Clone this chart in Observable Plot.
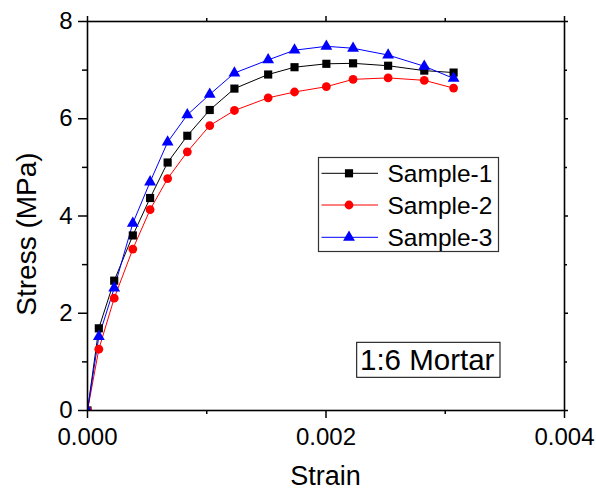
<!DOCTYPE html>
<html>
<head>
<meta charset="utf-8">
<script src="https://cdn.jsdelivr.net/npm/d3@7"></script>
<script src="https://cdn.jsdelivr.net/npm/@observablehq/plot@0.6"></script>
<style>
  html, body { margin: 0; padding: 0; background: #fff; }
  svg { display: block; }
</style>
</head>
<body>
<div id="chart"></div>
<script>
// ---- data ----
const strain = [0, 0.000095, 0.000224, 0.00038, 0.000525, 0.000672, 0.000837, 0.001025, 0.001232, 0.001515, 0.001736, 0.002003, 0.002227, 0.002521, 0.002824, 0.00307];
const sample1 = [0, 1.69, 2.67, 3.60, 4.37, 5.10, 5.65, 6.18, 6.62, 6.91, 7.06, 7.13, 7.14, 7.09, 6.99, 6.95];
const sample2 = [0, 1.26, 2.31, 3.32, 4.13, 4.77, 5.32, 5.86, 6.17, 6.43, 6.55, 6.66, 6.81, 6.84, 6.79, 6.63];
const sample3 = [0, 1.52, 2.52, 3.85, 4.70, 5.52, 6.08, 6.50, 6.94, 7.21, 7.41, 7.49, 7.45, 7.31, 7.08, 6.83];
const seriesNames = ["Sample-1", "Sample-2", "Sample-3"];
const seriesColors = ["#000000", "#ff0000", "#0000ff"];
const seriesSymbols = ["square", "circle", "triangle"];
const xMajor = [0, 0.002, 0.004];
const xMinor = [0.001, 0.003];
const yMajor = [0, 2, 4, 6, 8];
const yMinor = [1, 3, 5, 7];
const annotation = "1:6 Mortar";

const allSeries = [sample1, sample2, sample3];
const data = allSeries.flatMap((vals, i) =>
  vals.map((v, j) => ({ strain: strain[j], stress: v, series: seriesNames[i] })));

const font = "'Liberation Sans', Arial, sans-serif";
const W = 596, H = 492;
const mL = 87, mR = 32, mT = 21, mB = 82;

const symR = { square: 4.6, circle: 4.4, triangle: 4.4 };

const marks = [];
seriesNames.forEach((name, i) => {
  const d = data.filter(r => r.series === name);
  marks.push(Plot.line(d, { x: "strain", y: "stress", stroke: seriesColors[i], strokeWidth: 1, clip: true }));
});
seriesNames.forEach((name, i) => {
  const d = data.filter(r => r.series === name);
  marks.push(Plot.dot(d, { x: "strain", y: "stress", symbol: () => seriesSymbols[i], fill: seriesColors[i], stroke: "none", r: symR[seriesSymbols[i]], clip: true }));
});

const axisStyle = { stroke: "#000", strokeWidth: 1.5 };
marks.push(
  Plot.axisX({ ticks: xMajor, tickSize: 8, tickPadding: 9, tickFormat: d3.format(".3f"), fontSize: 24, label: null, ...axisStyle, fill: "#000" }),
  Plot.axisX({ ticks: xMinor, tickSize: 4, tickFormat: () => "", label: null, ...axisStyle }),
  Plot.axisX({ anchor: "top", ticks: xMajor, tickSize: 6, tickFormat: () => "", label: null, ...axisStyle }),
  Plot.axisX({ anchor: "top", ticks: xMinor, tickSize: 4, tickFormat: () => "", label: null, ...axisStyle }),
  Plot.axisY({ ticks: yMajor, tickSize: 9, tickPadding: 6, tickFormat: d3.format("d"), fontSize: 24, label: null, ...axisStyle, fill: "#000" }),
  Plot.axisY({ ticks: yMinor, tickSize: 5, tickFormat: () => "", label: null, ...axisStyle }),
  Plot.axisY({ anchor: "right", ticks: yMajor, tickSize: 3, tickFormat: () => "", label: null, ...axisStyle }),
  Plot.axisY({ anchor: "right", ticks: yMinor, tickSize: 2, tickFormat: () => "", label: null, ...axisStyle }),
  Plot.frame({ stroke: "#000", strokeWidth: 1.6 })
);

const svg = Plot.plot({
  width: W, height: H,
  marginLeft: mL, marginRight: mR, marginTop: mT, marginBottom: mB,
  style: { fontFamily: font, background: "#fff", color: "#000", overflow: "visible" },
  x: { domain: [0, 0.004], label: null },
  y: { domain: [0, 8], label: null },
  marks
});

const s = d3.select(svg);
// axis titles
s.append("text").attr("x", (mL + W - mR) / 2).attr("y", 485)
  .attr("text-anchor", "middle").attr("font-size", 27).attr("font-family", font).attr("fill", "#000").text("Strain");
s.append("text").attr("transform", `translate(36,${234}) rotate(-90)`)
  .attr("text-anchor", "middle").attr("font-size", 28).attr("font-family", font).attr("fill", "#000").text("Stress (MPa)");

// legend
const lg = s.append("g");
lg.append("rect").attr("x", 318.5).attr("y", 157.5).attr("width", 180).attr("height", 94)
  .attr("fill", "#fff").attr("stroke", "#333").attr("stroke-width", 1.2);
const rowsY = [173.3, 205, 237.3];
seriesNames.forEach((name, i) => {
  const y = rowsY[i];
  lg.append("line").attr("x1", 321.5).attr("x2", 378).attr("y1", y).attr("y2", y)
    .attr("stroke", seriesColors[i]).attr("stroke-width", 1);
  const sym = { square: d3.symbolSquare, circle: d3.symbolCircle, triangle: d3.symbolTriangle }[seriesSymbols[i]];
  const rr = symR[seriesSymbols[i]];
  lg.append("path").attr("d", d3.symbol(sym, Math.PI * rr * rr)())
    .attr("transform", `translate(349,${y})`).attr("fill", seriesColors[i]);
  lg.append("text").attr("x", 387.5).attr("y", y + 8.5).attr("font-size", 24.5)
    .attr("text-anchor", "start").attr("font-family", font).attr("fill", "#000").text(name);
});

// annotation box
const an = s.append("g");
an.append("rect").attr("x", 356.7).attr("y", 342.3).attr("width", 143.3).attr("height", 35)
  .attr("fill", "#fff").attr("stroke", "#000").attr("stroke-width", 1);
an.append("text").attr("x", 360).attr("y", 370).attr("font-size", 29.5)
  .attr("text-anchor", "start").attr("font-family", font).attr("fill", "#000").text(annotation);

document.getElementById("chart").appendChild(svg);
</script>
</body>
</html>
